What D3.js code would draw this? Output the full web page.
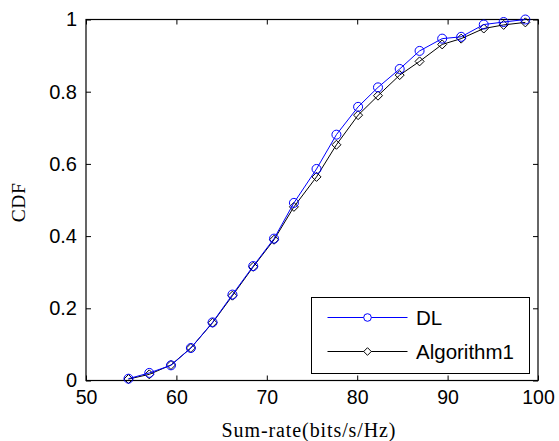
<!DOCTYPE html>
<html>
<head>
<meta charset="utf-8">
<script src="https://cdn.jsdelivr.net/npm/d3@7"></script>
<style>
  body { margin: 0; background: #fff; }
  svg { display: block; }
</style>
</head>
<body>
<div id="chart"></div>
<script>
// sum-rate samples (x) and CDF values for each method
const sumRate = [54.7, 57.0, 59.4, 61.6, 64.0, 66.2, 68.5, 70.8, 73.0, 75.5,
                 77.7, 80.1, 82.3, 84.7, 86.9, 89.4, 91.5, 94.0, 96.2, 98.6];
const cdfDL   = [0.005, 0.021, 0.042, 0.090, 0.161, 0.238, 0.317, 0.393, 0.492, 0.586,
                 0.681, 0.758, 0.812, 0.863, 0.913, 0.947, 0.952, 0.986, 0.993, 1.0];
const cdfAlg1 = [0.004, 0.017, 0.043, 0.090, 0.160, 0.235, 0.315, 0.390, 0.481, 0.564,
                 0.653, 0.735, 0.789, 0.846, 0.884, 0.931, 0.947, 0.975, 0.985, 0.992];
const xTicks = [50, 60, 70, 80, 90, 100];
const yTicks = [0, 0.2, 0.4, 0.6, 0.8, 1];
const seriesNames = ["DL", "Algorithm1"];

const width = 559, height = 441;
const margin = {left: 86, right: 21, top: 19.5, bottom: 60.5};
const sansFont = "'Liberation Sans', Arial, sans-serif";
const serifFont = "'Liberation Serif', 'Times New Roman', serif";

const svg = d3.select("#chart").append("svg")
  .attr("width", width)
  .attr("height", height);

const x_scale = d3.scaleLinear().domain([50, 100]).range([margin.left, width - margin.right]);
const y_scale = d3.scaleLinear().domain([0, 1]).range([height - margin.bottom, margin.top]);

const x0 = margin.left, x1 = width - margin.right;
const y0 = height - margin.bottom, y1 = margin.top;
const tickLen = 5;

// bottom axis with labels, ticks pointing inward
svg.append("g")
  .attr("transform", "translate(0," + y0 + ")")
  .call(d3.axisBottom(x_scale).tickValues(xTicks).tickSize(-tickLen).tickPadding(10).tickFormat(d3.format("d")))
  .call(g => g.select(".domain").remove())
  .selectAll("text")
  .attr("fill", "#000")
  .style("font-family", sansFont)
  .style("font-size", "19.5px");

// top ticks
svg.append("g")
  .attr("transform", "translate(0," + y1 + ")")
  .call(d3.axisTop(x_scale).tickValues(xTicks).tickSize(-tickLen).tickFormat(""))
  .call(g => g.select(".domain").remove());

// left axis
svg.append("g")
  .attr("transform", "translate(" + x0 + ",0)")
  .call(d3.axisLeft(y_scale).tickValues(yTicks).tickSize(-tickLen).tickPadding(9).tickFormat(d => d === 0 || d === 1 ? d : d.toFixed(1)))
  .call(g => g.select(".domain").remove())
  .selectAll("text")
  .attr("fill", "#000")
  .style("font-family", sansFont)
  .style("font-size", "20px");

// right ticks
svg.append("g")
  .attr("transform", "translate(" + x1 + ",0)")
  .call(d3.axisRight(y_scale).tickValues(yTicks).tickSize(-tickLen).tickFormat(""))
  .call(g => g.select(".domain").remove());

svg.selectAll(".tick line").attr("stroke", "#000");

// axes box
svg.append("rect")
  .attr("x", x0).attr("y", y1)
  .attr("width", x1 - x0).attr("height", y0 - y1)
  .attr("fill", "none")
  .attr("stroke", "#000")
  .attr("stroke-width", 1.2);

const line = d3.line()
  .x(d => x_scale(d[0]))
  .y(d => y_scale(d[1]));

const dlData = sumRate.map((v, i) => [v, cdfDL[i]]);
const algData = sumRate.map((v, i) => [v, cdfAlg1[i]]);

const diamond = s => "M0," + (-s) + "L" + s + ",0L0," + s + "L" + (-s) + ",0Z";

// Algorithm1 (black, diamonds)
svg.append("path")
  .datum(algData)
  .attr("d", line)
  .attr("fill", "none")
  .attr("stroke", "#000")
  .attr("stroke-width", 1);

svg.selectAll(".alg")
  .data(algData)
  .enter()
  .append("path")
  .attr("class", "alg")
  .attr("transform", d => "translate(" + x_scale(d[0]) + "," + y_scale(d[1]) + ")")
  .attr("d", diamond(4.5))
  .attr("fill", "none")
  .attr("stroke", "#000")
  .attr("stroke-width", 1);

// DL (blue, circles)
svg.append("path")
  .datum(dlData)
  .attr("d", line)
  .attr("fill", "none")
  .attr("stroke", "#0000ff")
  .attr("stroke-width", 1);

svg.selectAll(".dl")
  .data(dlData)
  .enter()
  .append("circle")
  .attr("class", "dl")
  .attr("cx", d => x_scale(d[0]))
  .attr("cy", d => y_scale(d[1]))
  .attr("r", 4.5)
  .attr("fill", "none")
  .attr("stroke", "#0000ff")
  .attr("stroke-width", 1);

// legend
const legend = svg.append("g");
legend.append("rect")
  .attr("x", 311.5).attr("y", 297.5)
  .attr("width", 218).attr("height", 76)
  .attr("fill", "#fff")
  .attr("stroke", "#000")
  .attr("stroke-width", 1);

const legendRows = [
  {name: seriesNames[0], color: "#0000ff", y: 317.5, marker: "circle"},
  {name: seriesNames[1], color: "#000", y: 351.5, marker: "diamond"}
];
legendRows.forEach(r => {
  legend.append("line")
    .attr("x1", 327.5).attr("x2", 407.5)
    .attr("y1", r.y).attr("y2", r.y)
    .attr("stroke", r.color);
  if (r.marker === "circle") {
    legend.append("circle")
      .attr("cx", 367.5).attr("cy", r.y).attr("r", 3.8)
      .attr("fill", "#fff").attr("stroke", r.color);
  } else {
    legend.append("path")
      .attr("transform", "translate(367.5," + r.y + ")")
      .attr("d", diamond(3.8))
      .attr("fill", "#fff").attr("stroke", r.color);
  }
  legend.append("text")
    .attr("x", 416).attr("y", r.y + 7.5)
    .style("font-family", sansFont)
    .style("font-size", "20.5px")
    .text(r.name);
});

// axis titles
svg.append("text")
  .attr("x", 309)
  .attr("y", 437)
  .attr("text-anchor", "middle")
  .style("font-family", serifFont)
  .style("font-size", "20px")
  .style("letter-spacing", "0.9px")
  .text("Sum-rate(bits/s/Hz)");

svg.append("text")
  .attr("transform", "translate(24.5,202.5) rotate(-90)")
  .attr("text-anchor", "middle")
  .style("font-family", serifFont)
  .style("font-size", "19.5px")
  .style("letter-spacing", "0.6px")
  .text("CDF");
</script>
</body>
</html>
